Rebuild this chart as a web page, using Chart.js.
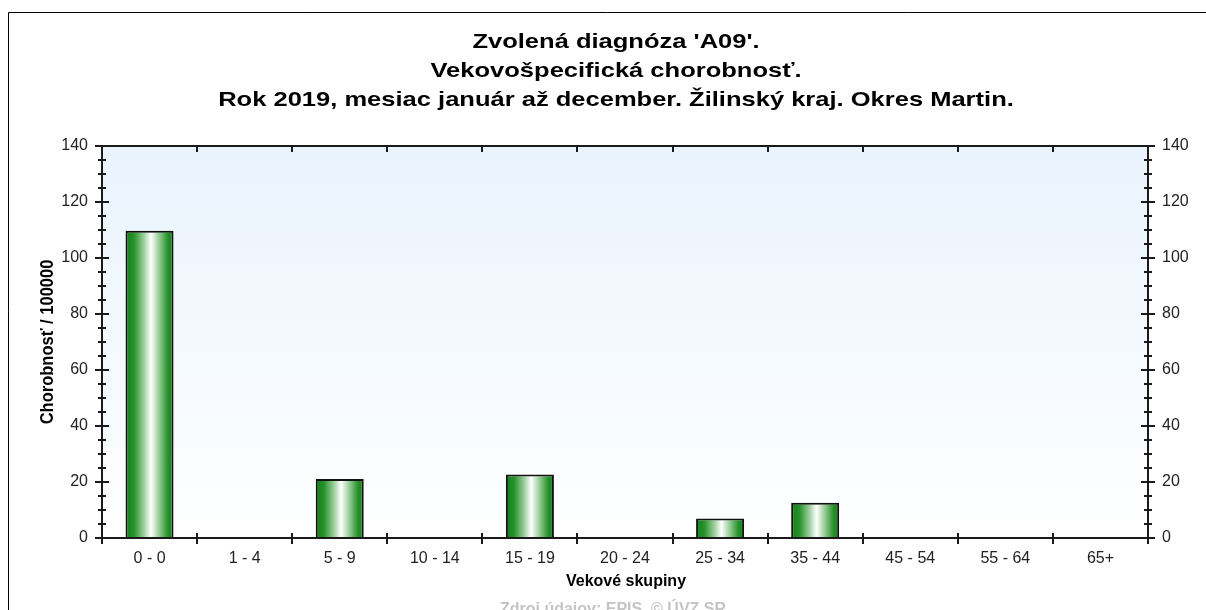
<!DOCTYPE html>
<html>
<head>
<meta charset="utf-8">
<script src="https://cdn.jsdelivr.net/npm/chart.js@4.4.1/dist/chart.umd.min.js"></script>
<style>
  html, body { margin: 0; padding: 0; background: #fff; }
  canvas { display: block; }
</style>
</head>
<body>
<canvas id="chart" width="1206" height="610"></canvas>
<script>
// data
const ageGroups = ['0 - 0', '1 - 4', '5 - 9', '10 - 14', '15 - 19', '20 - 24', '25 - 34', '35 - 44', '45 - 54', '55 - 64', '65+'];
const incidence = [109.7, 0, 21.1, 0, 22.7, 0, 7.0, 12.6, 0, 0, 0];
const yTicks = [0, 20, 40, 60, 80, 100, 120, 140];
const titleLines = [
  "Zvolená diagnóza 'A09'.",
  'Vekovošpecifická chorobnosť.',
  'Rok 2019, mesiac január až december. Žilinský kraj. Okres Martin.'
];
const yTitle = 'Chorobnosť / 100000';
const xTitle = 'Vekové skupiny';
const sourceText = 'Zdroj údajov: EPIS, © ÚVZ SR';

const FONT = '"Liberation Sans", Arial, sans-serif';
const tickFont = { family: FONT, size: 16 };
const barShare = 0.505;

// horizontal green-white-green shading of each bar
function barFill(c) {
  const chart = c.chart;
  const xs = chart.scales.x;
  if (c.dataIndex === undefined || !xs || !chart.chartArea) return '#1e8c1e';
  const cx = xs.getPixelForValue(c.dataIndex);
  const half = xs.width / ageGroups.length * barShare / 2;
  const g = chart.ctx.createLinearGradient(cx - half, 0, cx + half, 0);
  g.addColorStop(0, '#13801a');
  g.addColorStop(0.17, '#26912a');
  g.addColorStop(0.37, '#96cc96');
  g.addColorStop(0.53, '#ffffff');
  g.addColorStop(0.7, '#96cc96');
  g.addColorStop(0.88, '#26912a');
  g.addColorStop(1, '#13801a');
  return g;
}

function stretched(ctx, text, x, y, sx) {
  ctx.save();
  ctx.translate(x, y);
  ctx.scale(sx, 1);
  ctx.fillText(text, 0, 0);
  ctx.restore();
}

const frame = {
  id: 'frame',
  beforeDraw(chart) {
    const { ctx, chartArea: a } = chart;
    ctx.save();
    ctx.fillStyle = '#fff';
    ctx.fillRect(0, 0, chart.width, chart.height);
    const g = ctx.createLinearGradient(0, a.top, 0, a.bottom);
    g.addColorStop(0, '#e9f3fd');
    g.addColorStop(1, '#ffffff');
    ctx.fillStyle = g;
    ctx.fillRect(a.left, a.top, a.right - a.left, a.bottom - a.top);
    // outer frame (only left and top visible)
    ctx.strokeStyle = '#000';
    ctx.lineWidth = 1;
    ctx.beginPath();
    ctx.moveTo(8.5, chart.height);
    ctx.lineTo(8.5, 12.5);
    ctx.lineTo(chart.width, 12.5);
    ctx.stroke();
    ctx.restore();
  },
  afterDraw(chart) {
    const { ctx, chartArea: a } = chart;
    const xs = chart.scales.x, ys = chart.scales.y;
    const cat = xs.width / ageGroups.length;
    ctx.save();
    ctx.strokeStyle = '#1a1a1a';
    ctx.lineWidth = 2;
    ctx.beginPath();
    // box
    ctx.moveTo(a.left - 6, a.top); ctx.lineTo(a.right + 6, a.top);
    ctx.moveTo(a.left - 7, a.bottom); ctx.lineTo(a.right + 7, a.bottom);
    ctx.moveTo(a.left, a.top); ctx.lineTo(a.left, a.bottom + 6);
    ctx.moveTo(a.right, a.top); ctx.lineTo(a.right, a.bottom + 6);
    // category boundary ticks
    for (let i = 1; i < ageGroups.length; i++) {
      const x = Math.round(xs.getPixelForValue(i) - cat / 2);
      ctx.moveTo(x, a.bottom - 5); ctx.lineTo(x, a.bottom + 6);
      ctx.moveTo(x, a.top); ctx.lineTo(x, a.top + 6);
    }
    // value ticks, major every 20, minor every 5
    for (let v = 0; v <= 140; v += 5) {
      const y = Math.round(ys.getPixelForValue(v));
      const len = v % 20 === 0 ? 7 : 4;
      ctx.moveTo(a.left - len, y); ctx.lineTo(a.left + len, y);
      ctx.moveTo(a.right - len, y); ctx.lineTo(a.right + len, y);
    }
    ctx.stroke();

    // titles
    ctx.fillStyle = '#000';
    ctx.textAlign = 'center';
    ctx.textBaseline = 'alphabetic';
    ctx.font = 'bold 21px ' + FONT;
    const base = [48, 77, 106];
    titleLines.forEach((t, i) => stretched(ctx, t, 616, base[i], 1.215));

    ctx.font = 'bold 16px ' + FONT;
    ctx.fillText(xTitle, 626, 586);

    ctx.save();
    ctx.translate(53, (a.top + a.bottom) / 2);
    ctx.rotate(-Math.PI / 2);
    ctx.scale(1, 1.12);
    ctx.font = 'bold 16.5px ' + FONT;
    ctx.fillText(yTitle, 0, 0);
    ctx.restore();

    ctx.fillStyle = '#c4c4c4';
    ctx.font = 'bold 16px ' + FONT;
    ctx.fillText(sourceText, 613, 614);
    ctx.restore();
  }
};

new Chart(document.getElementById('chart'), {
  type: 'bar',
  data: {
    labels: ageGroups,
    datasets: [{
      data: incidence,
      backgroundColor: barFill,
      borderColor: '#111',
      borderWidth: 2,
      barPercentage: barShare,
      categoryPercentage: 1
    }]
  },
  options: {
    responsive: false,
    animation: false,
    layout: { padding: { top: 146, left: 0, right: 0, bottom: 0 } },
    plugins: { legend: { display: false }, tooltip: { enabled: false }, title: { display: false } },
    scales: {
      x: {
        offset: true,
        grid: { display: false, drawTicks: false },
        border: { display: false },
        ticks: { font: tickFont, color: '#222', padding: 11, maxRotation: 0, autoSkip: false },
        afterFit(s) { s.height = 72; }
      },
      y: {
        position: 'left',
        min: 0, max: 140,
        grid: { display: false, drawTicks: false },
        border: { display: false },
        ticks: { stepSize: 20, font: tickFont, color: '#222', padding: 14 },
        afterBuildTicks(s) { s.ticks = yTicks.map(v => ({ value: v })); },
        afterFit(s) { s.width = 102; }
      },
      y2: {
        position: 'right',
        display: true,
        min: 0, max: 140,
        grid: { display: false, drawTicks: false },
        border: { display: false },
        ticks: { stepSize: 20, font: tickFont, color: '#222', padding: 14 },
        afterBuildTicks(s) { s.ticks = yTicks.map(v => ({ value: v })); },
        afterFit(s) { s.width = 58; }
      }
    }
  },
  plugins: [frame]
});
</script>
</body>
</html>
